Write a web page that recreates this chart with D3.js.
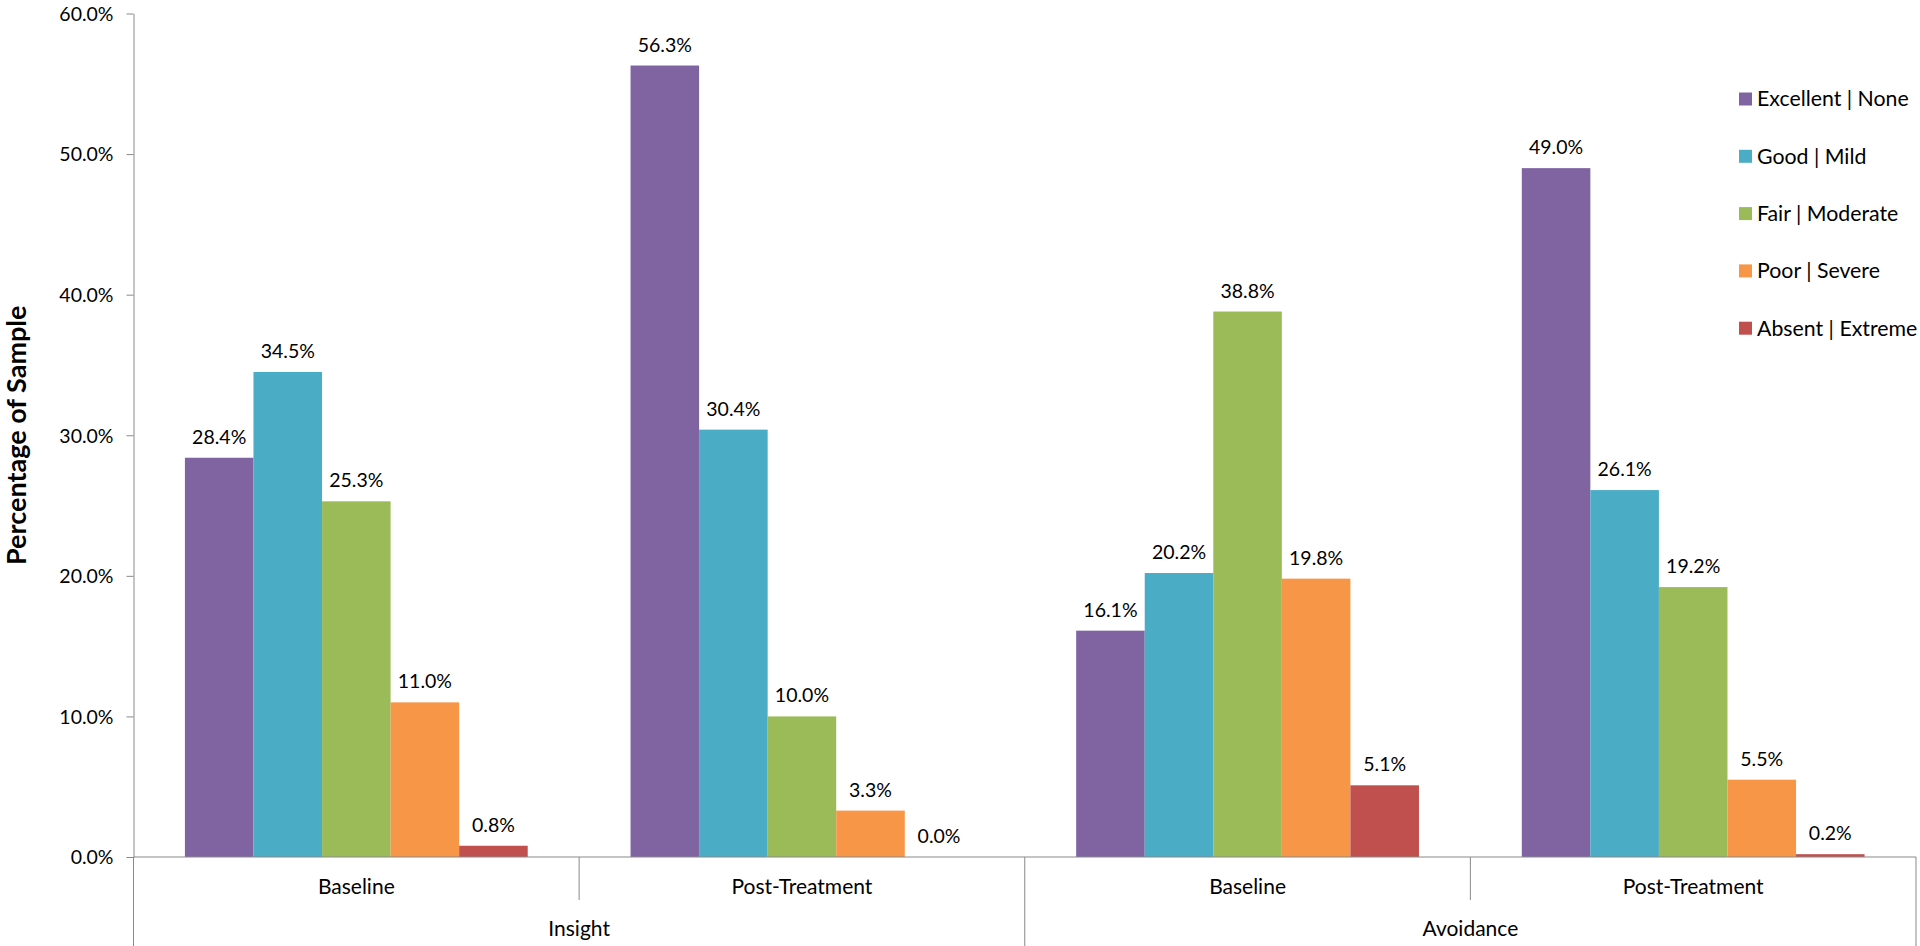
<!DOCTYPE html>
<html>
<head>
<meta charset="utf-8">
<script src="https://cdn.jsdelivr.net/npm/d3@7"></script>
<style>
  body { margin: 0; background: #fff; }
  svg text { font-family: Lato, "Noto Sans", sans-serif; fill: #000; }
  .axis path, .axis line { stroke: #898989; }
</style>
</head>
<body>
<svg id="chart" width="1920" height="946"></svg>
<script>
// data
const measures = ["Insight", "Avoidance"];
const phases = ["Baseline", "Post-Treatment"];
const seriesNames = ["Excellent | None", "Good | Mild", "Fair | Moderate", "Poor | Severe", "Absent | Extreme"];
const seriesColors = ["#8064A2", "#4BACC6", "#9BBB59", "#F79646", "#C0504D"];
// one value per bar group: Insight Baseline, Insight Post, Avoidance Baseline, Avoidance Post
const excellentNone = [28.4, 56.3, 16.1, 49.0];
const goodMild = [34.5, 30.4, 20.2, 26.1];
const fairModerate = [25.3, 10.0, 38.8, 19.2];
const poorSevere = [11.0, 3.3, 19.8, 5.5];
const absentExtreme = [0.8, 0.0, 5.1, 0.2];
const yTicks = [0, 10, 20, 30, 40, 50, 60];

const seriesValues = [excellentNone, goodMild, fairModerate, poorSevere, absentExtreme];

let svg = d3.select("#chart");

let plotLeft = 133.5, plotRight = 1916, plotTop = 13.5, plotBottom = 857;

// flat category list: measure | phase
let cats = [];
measures.forEach(m => phases.forEach(p => cats.push(m + "|" + p)));

let x0 = d3.scaleBand().domain(cats).range([plotLeft, plotRight]).padding(0);
let x1 = d3.scaleBand().domain(seriesNames).range([0, x0.bandwidth()])
    .paddingInner(0).paddingOuter(0.75);
let yScale = d3.scaleLinear().domain([0, 60]).range([plotBottom, plotTop]);

// Y axis
let y_axis = d3.axisLeft(yScale).tickValues(yTicks)
    .tickFormat(d => d.toFixed(1) + "%").tickSize(7).tickSizeOuter(0);
let yAxis = svg.append("g").attr("class", "axis")
    .attr("transform", `translate(${plotLeft},0)`)
    .call(y_axis);
yAxis.selectAll("text").attr("x", -20).attr("dy", "0.35em")
    .style("font-size", "19.5px");

// Y label
svg.append("text")
    .attr("transform", `translate(${26},${(plotTop + plotBottom) / 2}) rotate(270)`)
    .attr("text-anchor", "middle")
    .style("font-size", "27px")
    .style("font-weight", "bold")
    .text("Percentage of Sample");

// bars
let rows = [];
cats.forEach((c, i) => {
    seriesNames.forEach((s, j) => {
        rows.push({cat: c, series: s, value: seriesValues[j][i], color: seriesColors[j]});
    });
});

svg.append("g").selectAll(".bar")
    .data(rows)
    .enter().append("rect")
    .attr("class", "bar")
    .attr("x", d => x0(d.cat) + x1(d.series))
    .attr("y", d => yScale(d.value))
    .attr("width", x1.bandwidth())
    .attr("height", d => plotBottom - yScale(d.value))
    .attr("fill", d => d.color);

// data labels
svg.append("g").selectAll(".lbl")
    .data(rows)
    .enter().append("text")
    .attr("class", "lbl")
    .attr("x", d => x0(d.cat) + x1(d.series) + x1.bandwidth() / 2)
    .attr("y", d => yScale(d.value) - 14)
    .attr("text-anchor", "middle")
    .style("font-size", "19.5px")
    .text(d => d.value.toFixed(1) + "%");

// X axis: baseline + multi-level labels
let xg = svg.append("g").attr("class", "axis");
xg.append("line")
    .attr("x1", plotLeft).attr("x2", plotRight)
    .attr("y1", plotBottom).attr("y2", plotBottom);

cats.forEach((c, i) => {
    let x = x0(c);
    let long = i % phases.length === 0;
    xg.append("line")
        .attr("x1", x).attr("x2", x)
        .attr("y1", plotBottom).attr("y2", long ? 946 : 900);
    xg.append("text")
        .attr("x", x + x0.bandwidth() / 2)
        .attr("y", 887)
        .attr("dy", "0.35em")
        .attr("text-anchor", "middle")
        .style("font-size", "21px")
        .text(c.split("|")[1]);
});
xg.append("line")
    .attr("x1", plotRight).attr("x2", plotRight)
    .attr("y1", plotBottom).attr("y2", 946);

measures.forEach((m, i) => {
    let a = x0(m + "|" + phases[0]);
    let b = x0(m + "|" + phases[phases.length - 1]) + x0.bandwidth();
    xg.append("text")
        .attr("x", (a + b) / 2)
        .attr("y", 929)
        .attr("dy", "0.35em")
        .attr("text-anchor", "middle")
        .style("font-size", "21px")
        .text(m);
});

// legend
let legend = svg.append("g").attr("transform", `translate(${1739},${99})`);
seriesNames.forEach((s, i) => {
    let g = legend.append("g").attr("transform", `translate(0,${i * 57.3})`);
    g.append("rect")
        .attr("x", 0).attr("y", -6.5)
        .attr("width", 13).attr("height", 13)
        .attr("fill", seriesColors[i]);
    g.append("text")
        .attr("x", 18).attr("y", 0).attr("dy", "0.35em")
        .style("font-size", "21.3px")
        .text(s);
});
</script>
</body>
</html>
